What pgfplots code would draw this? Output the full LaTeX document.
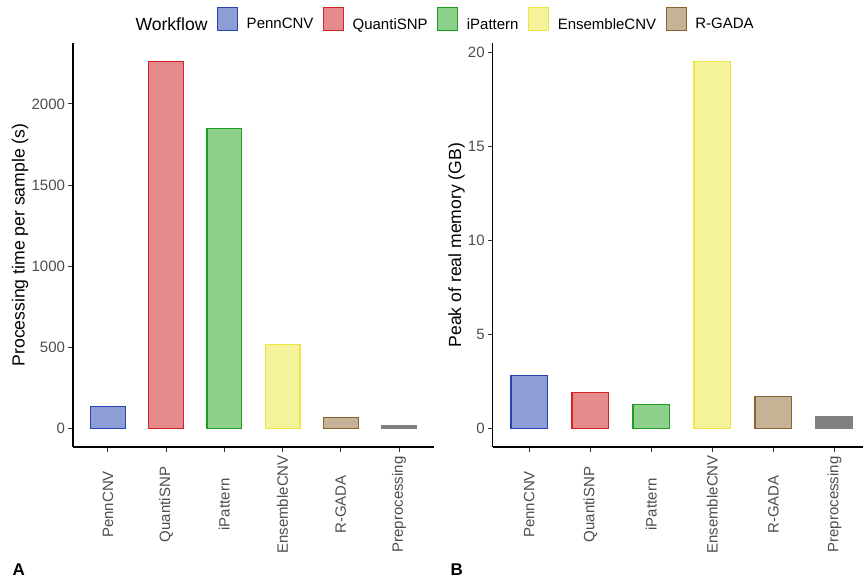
\documentclass[border=0pt]{standalone}
\usepackage{pgfplots}
\pgfplotsset{compat=1.18}
\usepackage{fontspec}
\setmainfont{Liberation Sans}

% fills and outlines of the workflows
\definecolor{pennfill}{HTML}{8D9DD5}
\definecolor{pennline}{HTML}{2843B0}
\definecolor{quanfill}{HTML}{E58B8B}
\definecolor{quanline}{HTML}{D62028}
\definecolor{ipatfill}{HTML}{8CD08C}
\definecolor{ipatline}{HTML}{1E9E1E}
\definecolor{ensfill}{HTML}{F4F39C}
\definecolor{ensline}{HTML}{EEE545}
\definecolor{rgadafill}{HTML}{C6B295}
\definecolor{rgadaline}{HTML}{8B6332}
\definecolor{prepfill}{HTML}{808080}
\definecolor{labgray}{HTML}{4D4D4D}
\definecolor{tickgray}{HTML}{333333}

\newcommand\ticksize{\fontsize{15bp}{18bp}\selectfont}
\newcommand\titlesize{\fontsize{17.6bp}{21bp}\selectfont}

\pgfplotsset{
  panel/.style={
    scale only axis, anchor=south west,
    axis lines=left,
    axis line style={-, line width=1.1bp, black},
    xmin=0.4, xmax=6.6,
    xtick={1,...,6},
    xticklabels={PennCNV,QuantiSNP,iPattern,EnsembleCNV,R-GADA,Preprocessing},
    tick align=outside, major tick length=4.5bp,
    tick style={line width=1.1bp, color=tickgray},
    xticklabel style={yshift=-53bp, rotate=90, anchor=center,
      font=\ticksize, text=labgray},
    yticklabel style={font=\ticksize, text=labgray},
    /pgf/number format/assume math mode=true,
    /pgf/number format/1000 sep={},
    ylabel style={font=\titlesize, anchor=center},
    clip=false,
  },
  cnvbar/.style={ybar, bar width=0.6, bar shift=0pt, line width=1.2bp, forget plot},
  key/.style 2 args={legend image code/.code={%
    \draw[fill=#1, draw=#2, line width=1.2bp] (0bp,-5.9bp) rectangle (20bp,16.6bp);}},
}

\begin{document}
\begin{tikzpicture}
\useasboundingbox (0,0) rectangle (863bp,581bp);

% A: processing time per sample
\begin{axis}[panel,
  at={(73bp,134bp)}, width=361bp, height=404bp,
  ymin=-113, ymax=2375,
  ytick={0,500,1000,1500,2000},
  ylabel={Processing time per sample (s)},
  ylabel style={at={(axis description cs:-0.1468,0.5)}},
  legend cell align=left,
  legend style={at={(axis description cs:0.1496,1.0884)}, anchor=north west,
    draw=none, fill=none, inner sep=0pt, outer sep=0pt,
    legend columns=-1, font=\ticksize, text=black,
    nodes={inner sep=0pt},
    /tikz/every odd column/.append style={column sep=8.5bp},
    /tikz/every even column/.append style={column sep=9.5bp},
    /tikz/column 1/.style={column sep=0pt},
    /tikz/column 2/.style={column sep=5bp}},
]
\addplot[cnvbar, fill=pennfill, draw=pennline] coordinates {(1,137)};
\addplot[cnvbar, fill=quanfill, draw=quanline] coordinates {(2,2262)};
\addplot[cnvbar, fill=ipatfill, draw=ipatline] coordinates {(3,1846)};
\addplot[cnvbar, fill=ensfill, draw=ensline] coordinates {(4,517)};
\addplot[cnvbar, fill=rgadafill, draw=rgadaline] coordinates {(5,68)};
\addplot[cnvbar, fill=prepfill, draw=prepfill] coordinates {(6,20)};

\addlegendimage{empty legend}
\addlegendentry{\titlesize Workflow}
\addlegendimage{key={pennfill}{pennline}}
\addlegendentry{PennCNV}
\addlegendimage{key={quanfill}{quanline}}
\addlegendentry{QuantiSNP}
\addlegendimage{key={ipatfill}{ipatline}}
\addlegendentry{iPattern}
\addlegendimage{key={ensfill}{ensline}}
\addlegendentry{EnsembleCNV}
\addlegendimage{key={rgadafill}{rgadaline}}
\addlegendentry{R-GADA}
\end{axis}

% B: peak of real memory
\begin{axis}[panel,
  at={(492.7bp,134bp)}, width=378.3bp, height=403.7bp,
  ymin=-0.975, ymax=20.475,
  ytick={0,5,10,15,20},
  ylabel={Peak of real memory (GB)},
  ylabel style={at={(axis description cs:-0.0957,0.5)}},
]
\addplot[cnvbar, fill=pennfill, draw=pennline] coordinates {(1,2.81)};
\addplot[cnvbar, fill=quanfill, draw=quanline] coordinates {(2,1.92)};
\addplot[cnvbar, fill=ipatfill, draw=ipatline] coordinates {(3,1.29)};
\addplot[cnvbar, fill=ensfill, draw=ensline] coordinates {(4,19.49)};
\addplot[cnvbar, fill=rgadafill, draw=rgadaline] coordinates {(5,1.70)};
\addplot[cnvbar, fill=prepfill, draw=prepfill] coordinates {(6,0.64)};
\end{axis}

\node[anchor=base west, font=\bfseries\fontsize{17bp}{20bp}\selectfont] at (9bp,6bp) {A};
\node[anchor=base west, font=\bfseries\fontsize{17bp}{20bp}\selectfont] at (447bp,6bp) {B};
\end{tikzpicture}
\end{document}
